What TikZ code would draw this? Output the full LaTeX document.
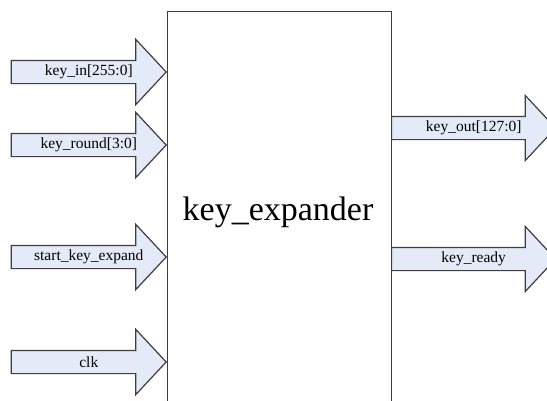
\documentclass[tikz,border=0pt]{standalone}
\usepackage{fontspec}
\setmainfont{Liberation Serif}
\usetikzlibrary{shapes.arrows,calc}
\definecolor{portfill}{RGB}{228,234,247}
\definecolor{portline}{RGB}{62,62,62}
\tikzset{
  port/.style={single arrow, draw=portline, fill=portfill, line width=1.2pt,
    minimum height=#1, minimum width=64pt, single arrow head extend=21pt,
    single arrow tip angle=94, text height=10pt, text depth=3pt,
    inner ysep=4.5pt, inner xsep=0pt},
  portname/.style={font=\fontsize{15.5}{18}\selectfont, inner sep=0pt},
  module/.style={draw=portline, line width=1.2pt, fill=white,
    minimum width=224pt, minimum height=420pt, anchor=north west},
}
\newcommand{\portlabel}[2]{\node[portname] (#1name) at ($(#1.tail)!0.5!(#1.tip)$) {#2};}
\begin{document}
\begin{tikzpicture}[x=1pt,y=-1pt]
\useasboundingbox (0,0) rectangle (547,400);
\clip (0,0) rectangle (547,400);
% module body
\node[module] (expander) at (167,11) {};
\node[font=\fontsize{34}{40}\selectfont, anchor=base] (name) at (278,220) {key\_expander};
% inputs
\node[port=155pt, anchor=tip] (keyin)    at (167,72)  {};
\node[port=155pt, anchor=tip] (keyround) at (167,145) {};
\node[port=155pt, anchor=tip] (start)    at (167,257) {};
\node[port=155pt, anchor=tip] (clk)      at (167,362) {};
% outputs
\node[port=164pt, anchor=tail] (keyout)   at (391,128) {};
\node[port=164pt, anchor=tail] (keyready) at (391,259) {};
% labels
\portlabel{keyin}{key\_in[255:0]}
\portlabel{keyround}{key\_round[3:0]}
\portlabel{start}{start\_key\_expand}
\portlabel{clk}{clk}
\portlabel{keyout}{key\_out[127:0]}
\portlabel{keyready}{key\_ready}
\end{tikzpicture}
\end{document}
